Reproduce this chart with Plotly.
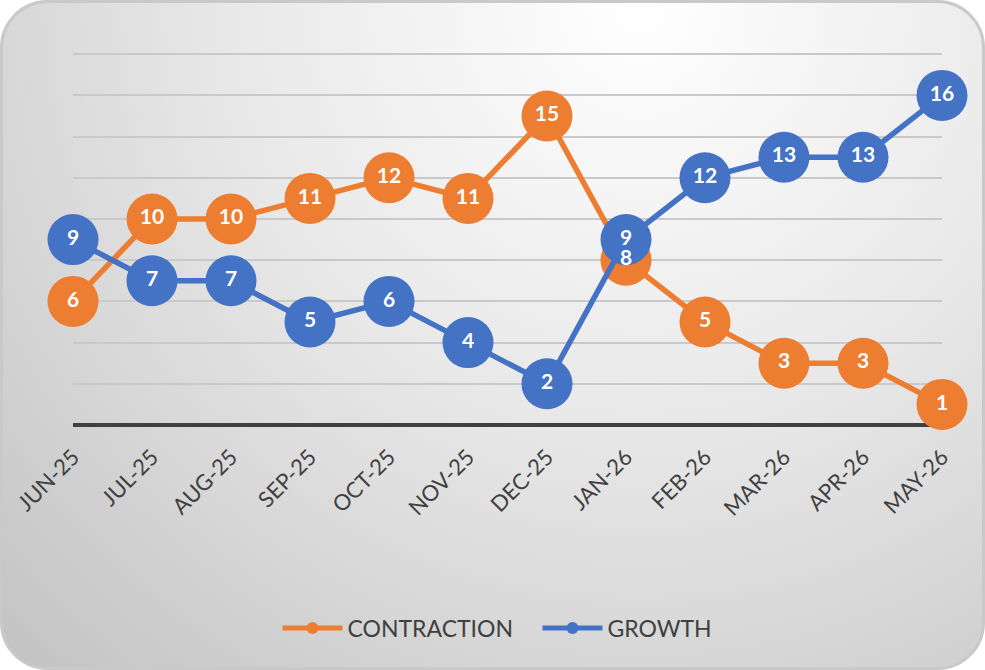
import base64
import plotly.graph_objects as go

months = ["JUN-25", "JUL-25", "AUG-25", "SEP-25", "OCT-25", "NOV-25",
          "DEC-25", "JAN-26", "FEB-26", "MAR-26", "APR-26", "MAY-26"]
contraction = [6, 10, 10, 11, 12, 11, 15, 8, 5, 3, 3, 1]
growth = [9, 7, 7, 5, 6, 4, 2, 9, 12, 13, 13, 16]

ORANGE = "#ED7D31"
BLUE = "#4472C4"
TEXT = "#404040"
FONT = "Lato"

W, H = 985, 670
YMAX = 18.3
ML, MR, MT, MB = 73, 43, 48, 245

svg = (
    f'<svg xmlns="http://www.w3.org/2000/svg" width="{W}" height="{H}" viewBox="0 0 {W} {H}">'
    '<defs><radialGradient id="g" cx="640" cy="10" r="920" gradientUnits="userSpaceOnUse">'
    '<stop offset="0" stop-color="#ffffff"/>'
    '<stop offset="0.45" stop-color="#e8e8e8"/>'
    '<stop offset="1" stop-color="#c2c2c2"/>'
    '</radialGradient></defs>'
    f'<rect x="1.5" y="1.5" width="{W-3}" height="{H-3}" rx="46" ry="46" '
    'fill="url(#g)" stroke="#c9c9c9" stroke-width="3"/></svg>'
)
bg = "data:image/svg+xml;base64," + base64.b64encode(svg.encode()).decode()

series = [("CONTRACTION", contraction, ORANGE), ("GROWTH", growth, BLUE)]

fig = go.Figure()
for name, vals, color in series:
    fig.add_trace(go.Scatter(
        x=months, y=vals, name=name,
        mode="lines+markers",
        line=dict(color=color, width=5.5),
        marker=dict(color=color, size=51, line=dict(width=0)),
        cliponaxis=False,
        hoverinfo="skip",
    ))
for name, vals, color in series:
    fig.add_trace(go.Scatter(
        x=months, y=vals, name=name + " labels",
        mode="text", showlegend=False,
        text=[str(v) for v in vals],
        textposition="middle center",
        textfont=dict(family=FONT, size=21, color="white", weight="bold"),
        cliponaxis=False,
        hoverinfo="skip",
    ))

pw = W - ML - MR
ph = H - MT - MB
fig.add_layout_image(dict(
    source=bg, xref="paper", yref="paper",
    x=-ML / pw, y=1 + MT / ph, sizex=W / pw, sizey=H / ph,
    xanchor="left", yanchor="top", sizing="stretch", layer="below",
))

fig.update_layout(
    width=W, height=H,
    margin=dict(l=ML, r=MR, t=MT, b=MB, autoexpand=False),
    paper_bgcolor="white",
    plot_bgcolor="rgba(0,0,0,0)",
    showlegend=True,
    legend=dict(
        orientation="h", x=0.5 + 30 / pw, xanchor="center",
        y=(H - 628 - MB) / ph, yanchor="middle",
        font=dict(family=FONT, size=23, color=TEXT),
        itemsizing="constant", itemwidth=60,
        entrywidth=185,
        bgcolor="rgba(0,0,0,0)",
    ),
    xaxis=dict(
        type="category", range=[0, 11],
        tickangle=-45, showgrid=False, zeroline=False,
        showline=False, ticks="", ticklabelstandoff=14,
        tickfont=dict(family=FONT, size=22, color=TEXT),
    ),
    yaxis=dict(
        range=[0, YMAX], tick0=0, dtick=2, showticklabels=False,
        showgrid=True, gridcolor="#c9c9c9", gridwidth=1.5,
        zeroline=True, zerolinecolor="#404040", zerolinewidth=3.5,
        showline=False, ticks="",
    ),
)

fig.write_html("out.html", config={"displayModeBar": False},
               post_script="document.body.style.margin='0';")
